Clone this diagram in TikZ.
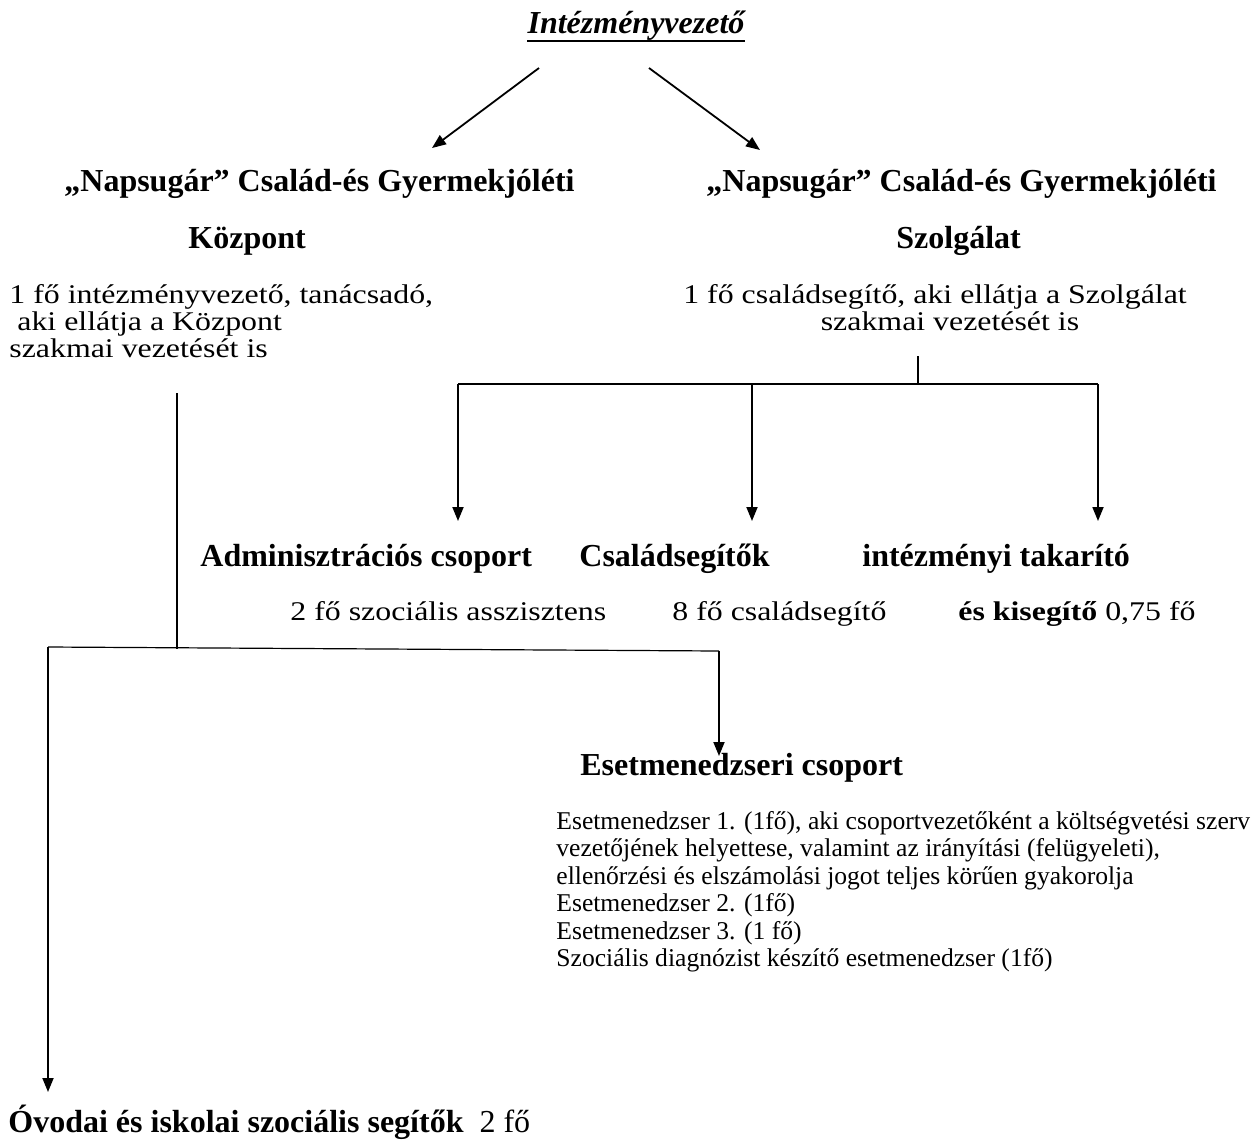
\documentclass[tikz,border=0pt]{standalone}
\usepackage{fontspec}
\setmainfont{Liberation Serif}
\newfontfamily\widerm[FakeStretch=1.18]{Liberation Serif}
\usetikzlibrary{positioning,arrows.meta}

\begin{document}
\begin{tikzpicture}[x=0.5pt,y=-0.5pt,
	hd/.style={font=\fontsize{16}{18.4}\selectfont\bfseries, inner sep=0, anchor=base west},
	tx/.style={font=\widerm\fontsize{13.5}{13.75}\selectfont, inner sep=0, anchor=base west},
	tb/.style={font=\fontsize{12.8}{13.75}\selectfont, inner sep=0, anchor=north west, align=left},
	ar/.style={-{Triangle[length=7pt,width=5.5pt]}, line width=0.9pt},
	ln/.style={line width=0.6pt}
	]
	\useasboundingbox (0,0) rectangle (1255,1142);
	
	\node[inner sep=0, anchor=base, font=\fontsize{16}{18.4}\selectfont\bfseries\itshape] (head) at (636,33) {Intézményvezető};
	\draw[line width=1.4pt] ([yshift=-4pt]head.base west) -- ([yshift=-4pt]head.base east);
	
	\node[hd] (kp1) at (64,191) {„Napsugár” Család-és Gyermekjóléti};
	\node[hd] (kp2) at (188,248) {Központ};
	\node[hd] (sz1) at (706,191) {„Napsugár” Család-és Gyermekjóléti};
	\node[hd] (sz2) at (896,248) {Szolgálat};
	
	\node[tx] (kpt1) at (9,303) {1 fő intézményvezető, tanácsadó,};
	\node[tx] (kpt2) at (9,330) {\ aki ellátja a Központ};
	\node[tx] (kpt3) at (9,357) {szakmai vezetését is};
	\node[tx, anchor=base] (szt1) at (935,303) {1 fő családsegítő, aki ellátja a Szolgálat};
	\node[tx, anchor=base] (szt2) at (950,330) {szakmai vezetését is};
	
	\coordinate (hl) at (539,68);
	\coordinate (hr) at (649,68);
	\coordinate (kpa) at (432,148);
	\coordinate (sza) at (760,150);
	\draw[ar] (hl) -- (kpa);
	\draw[ar] (hr) -- (sza);
	
	% Szolgalat ag
	\node[hd] (adm) at (200,566) {Adminisztrációs csoport};
	\node[hd] (csa) at (579,566) {Családsegítők};
	\node[hd] (tak) at (862,566) {intézményi takarító};
	\node[tx] (adt) at (290,620) {2 fő szociális asszisztens};
	\node[tx] (cst) at (672,620) {8 fő családsegítő};
	\node[tx] (tat) at (958,620) {\textbf{és kisegítő} 0,75 fő};
	
	\coordinate (s0) at (918,356);
	\coordinate (s1) at (918,384);
	\coordinate (b1) at (458,384);
	\coordinate (b2) at (752,384);
	\coordinate (b3) at (1098,384);
	\draw[ln] (s0) -- (s1);
	\draw[ln] (b1) -- (b3);
	\draw[ar] (b1) -- (458,521);
	\draw[ar] (b2) -- (752,521);
	\draw[ar] (b3) -- (1098,521);
	
	% Kozpont ag
	\node[hd] (ese) at (580,775) {Esetmenedzseri csoport};
	\node[tb] (est) at (556,811) {Esetmenedzser 1. (1fő), aki csoportvezetőként a költségvetési szerv\\vezetőjének helyettese, valamint az irányítási (felügyeleti),\\ellenőrzési és elszámolási jogot teljes körűen gyakorolja\\Esetmenedzser 2. (1fő)\\Esetmenedzser 3. (1 fő)\\Szociális diagnózist készítő esetmenedzser (1fő)};
	\node[hd] (ovo) at (8,1132) {Óvodai és iskolai szociális segítők \ \mdseries 2 fő};
	
	\coordinate (k0) at (177,393);
	\coordinate (k1) at (177,649);
	\coordinate (c1) at (48,647);
	\coordinate (c2) at (719,651);
	\draw[ln] (k0) -- (k1);
	\draw[ln] (c1) -- (c2);
	\draw[ar] (c2) -- (719,756);
	\draw[ar] (c1) -- (48,1092);
	
\end{tikzpicture}
\end{document}
